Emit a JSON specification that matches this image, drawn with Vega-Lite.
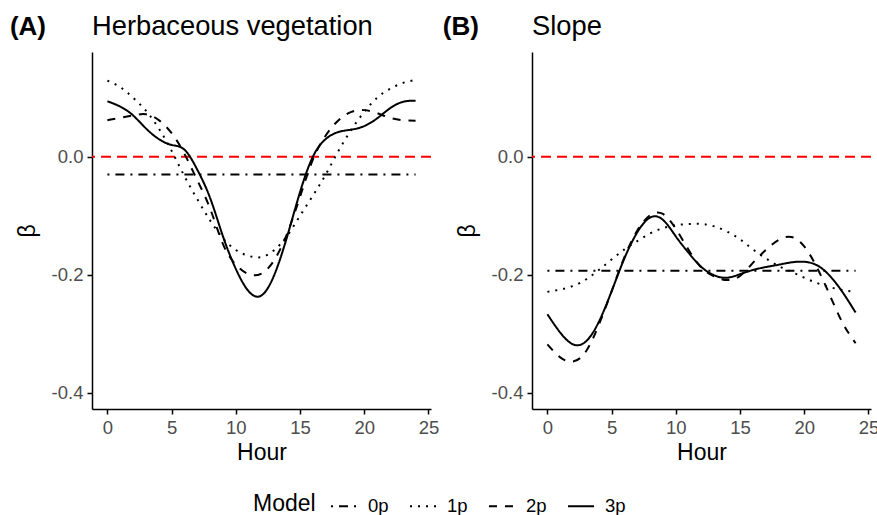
{
  "$schema": "https://vega.github.io/schema/vega-lite/v6.json",
  "background": "white",
  "padding": {"left": 9, "top": 12, "right": 5, "bottom": 5},
  "config": {
    "font": "Liberation Sans",
    "view": {"stroke": null},
    "axis": {"grid": false, "domainColor": "black", "domainWidth": 1.5, "tickColor": "black", "tickWidth": 1.5, "tickSize": 5, "labelColor": "#4d4d4d", "labelFontSize": 18.5, "labelPadding": 4, "titleFontSize": 23, "titleFontWeight": "normal", "titleColor": "black"}
  },
  "datasets": {
    "curves": [
      {"panel": "A", "model": "0p", "hour": 0, "beta": -0.030},
      {"panel": "A", "model": "0p", "hour": 24, "beta": -0.030},
      {"panel": "A", "model": "1p", "hour": 0, "beta": 0.129},
      {"panel": "A", "model": "1p", "hour": 1, "beta": 0.118},
      {"panel": "A", "model": "1p", "hour": 2, "beta": 0.100},
      {"panel": "A", "model": "1p", "hour": 3, "beta": 0.078},
      {"panel": "A", "model": "1p", "hour": 4, "beta": 0.048},
      {"panel": "A", "model": "1p", "hour": 5, "beta": 0.010},
      {"panel": "A", "model": "1p", "hour": 6, "beta": -0.033},
      {"panel": "A", "model": "1p", "hour": 7, "beta": -0.072},
      {"panel": "A", "model": "1p", "hour": 8, "beta": -0.108},
      {"panel": "A", "model": "1p", "hour": 9, "beta": -0.138},
      {"panel": "A", "model": "1p", "hour": 10, "beta": -0.158},
      {"panel": "A", "model": "1p", "hour": 11, "beta": -0.168},
      {"panel": "A", "model": "1p", "hour": 12, "beta": -0.170},
      {"panel": "A", "model": "1p", "hour": 13, "beta": -0.158},
      {"panel": "A", "model": "1p", "hour": 14, "beta": -0.134},
      {"panel": "A", "model": "1p", "hour": 15, "beta": -0.100},
      {"panel": "A", "model": "1p", "hour": 16, "beta": -0.066},
      {"panel": "A", "model": "1p", "hour": 17, "beta": -0.030},
      {"panel": "A", "model": "1p", "hour": 18, "beta": 0.010},
      {"panel": "A", "model": "1p", "hour": 19, "beta": 0.046},
      {"panel": "A", "model": "1p", "hour": 20, "beta": 0.076},
      {"panel": "A", "model": "1p", "hour": 21, "beta": 0.100},
      {"panel": "A", "model": "1p", "hour": 22, "beta": 0.115},
      {"panel": "A", "model": "1p", "hour": 23, "beta": 0.125},
      {"panel": "A", "model": "1p", "hour": 24, "beta": 0.130},
      {"panel": "A", "model": "2p", "hour": 0, "beta": 0.062},
      {"panel": "A", "model": "2p", "hour": 1, "beta": 0.066},
      {"panel": "A", "model": "2p", "hour": 2, "beta": 0.070},
      {"panel": "A", "model": "2p", "hour": 3, "beta": 0.072},
      {"panel": "A", "model": "2p", "hour": 4, "beta": 0.062},
      {"panel": "A", "model": "2p", "hour": 5, "beta": 0.040},
      {"panel": "A", "model": "2p", "hour": 6, "beta": 0.005},
      {"panel": "A", "model": "2p", "hour": 7, "beta": -0.040},
      {"panel": "A", "model": "2p", "hour": 8, "beta": -0.088},
      {"panel": "A", "model": "2p", "hour": 9, "beta": -0.148},
      {"panel": "A", "model": "2p", "hour": 10, "beta": -0.183},
      {"panel": "A", "model": "2p", "hour": 11, "beta": -0.199},
      {"panel": "A", "model": "2p", "hour": 12, "beta": -0.198},
      {"panel": "A", "model": "2p", "hour": 13, "beta": -0.175},
      {"panel": "A", "model": "2p", "hour": 14, "beta": -0.130},
      {"panel": "A", "model": "2p", "hour": 15, "beta": -0.068},
      {"panel": "A", "model": "2p", "hour": 16, "beta": -0.005},
      {"panel": "A", "model": "2p", "hour": 17, "beta": 0.036},
      {"panel": "A", "model": "2p", "hour": 18, "beta": 0.062},
      {"panel": "A", "model": "2p", "hour": 19, "beta": 0.076},
      {"panel": "A", "model": "2p", "hour": 20, "beta": 0.079},
      {"panel": "A", "model": "2p", "hour": 21, "beta": 0.074},
      {"panel": "A", "model": "2p", "hour": 22, "beta": 0.066},
      {"panel": "A", "model": "2p", "hour": 23, "beta": 0.062},
      {"panel": "A", "model": "2p", "hour": 24, "beta": 0.061},
      {"panel": "A", "model": "3p", "hour": 0, "beta": 0.094},
      {"panel": "A", "model": "3p", "hour": 1, "beta": 0.085},
      {"panel": "A", "model": "3p", "hour": 2, "beta": 0.070},
      {"panel": "A", "model": "3p", "hour": 3, "beta": 0.048},
      {"panel": "A", "model": "3p", "hour": 4, "beta": 0.030},
      {"panel": "A", "model": "3p", "hour": 5, "beta": 0.020},
      {"panel": "A", "model": "3p", "hour": 6, "beta": 0.012},
      {"panel": "A", "model": "3p", "hour": 7, "beta": -0.022},
      {"panel": "A", "model": "3p", "hour": 8, "beta": -0.070},
      {"panel": "A", "model": "3p", "hour": 9, "beta": -0.135},
      {"panel": "A", "model": "3p", "hour": 10, "beta": -0.190},
      {"panel": "A", "model": "3p", "hour": 11, "beta": -0.228},
      {"panel": "A", "model": "3p", "hour": 12, "beta": -0.235},
      {"panel": "A", "model": "3p", "hour": 13, "beta": -0.200},
      {"panel": "A", "model": "3p", "hour": 14, "beta": -0.135},
      {"panel": "A", "model": "3p", "hour": 15, "beta": -0.060},
      {"panel": "A", "model": "3p", "hour": 16, "beta": 0.000},
      {"panel": "A", "model": "3p", "hour": 17, "beta": 0.030},
      {"panel": "A", "model": "3p", "hour": 18, "beta": 0.042},
      {"panel": "A", "model": "3p", "hour": 19, "beta": 0.046},
      {"panel": "A", "model": "3p", "hour": 20, "beta": 0.052},
      {"panel": "A", "model": "3p", "hour": 21, "beta": 0.065},
      {"panel": "A", "model": "3p", "hour": 22, "beta": 0.082},
      {"panel": "A", "model": "3p", "hour": 23, "beta": 0.093},
      {"panel": "A", "model": "3p", "hour": 24, "beta": 0.095},
      {"panel": "B", "model": "0p", "hour": 0, "beta": -0.193},
      {"panel": "B", "model": "0p", "hour": 24, "beta": -0.193},
      {"panel": "B", "model": "1p", "hour": 0, "beta": -0.229},
      {"panel": "B", "model": "1p", "hour": 1, "beta": -0.225},
      {"panel": "B", "model": "1p", "hour": 2, "beta": -0.219},
      {"panel": "B", "model": "1p", "hour": 3, "beta": -0.208},
      {"panel": "B", "model": "1p", "hour": 4, "beta": -0.192},
      {"panel": "B", "model": "1p", "hour": 5, "beta": -0.174},
      {"panel": "B", "model": "1p", "hour": 6, "beta": -0.157},
      {"panel": "B", "model": "1p", "hour": 7, "beta": -0.143},
      {"panel": "B", "model": "1p", "hour": 8, "beta": -0.130},
      {"panel": "B", "model": "1p", "hour": 9, "beta": -0.121},
      {"panel": "B", "model": "1p", "hour": 10, "beta": -0.116},
      {"panel": "B", "model": "1p", "hour": 11, "beta": -0.114},
      {"panel": "B", "model": "1p", "hour": 12, "beta": -0.114},
      {"panel": "B", "model": "1p", "hour": 13, "beta": -0.118},
      {"panel": "B", "model": "1p", "hour": 14, "beta": -0.127},
      {"panel": "B", "model": "1p", "hour": 15, "beta": -0.140},
      {"panel": "B", "model": "1p", "hour": 16, "beta": -0.157},
      {"panel": "B", "model": "1p", "hour": 17, "beta": -0.172},
      {"panel": "B", "model": "1p", "hour": 18, "beta": -0.185},
      {"panel": "B", "model": "1p", "hour": 19, "beta": -0.195},
      {"panel": "B", "model": "1p", "hour": 20, "beta": -0.205},
      {"panel": "B", "model": "1p", "hour": 21, "beta": -0.214},
      {"panel": "B", "model": "1p", "hour": 22, "beta": -0.221},
      {"panel": "B", "model": "1p", "hour": 23, "beta": -0.226},
      {"panel": "B", "model": "1p", "hour": 24, "beta": -0.229},
      {"panel": "B", "model": "2p", "hour": 0, "beta": -0.318},
      {"panel": "B", "model": "2p", "hour": 1, "beta": -0.340},
      {"panel": "B", "model": "2p", "hour": 2, "beta": -0.347},
      {"panel": "B", "model": "2p", "hour": 3, "beta": -0.330},
      {"panel": "B", "model": "2p", "hour": 4, "beta": -0.285},
      {"panel": "B", "model": "2p", "hour": 5, "beta": -0.228},
      {"panel": "B", "model": "2p", "hour": 6, "beta": -0.170},
      {"panel": "B", "model": "2p", "hour": 7, "beta": -0.125},
      {"panel": "B", "model": "2p", "hour": 8, "beta": -0.099},
      {"panel": "B", "model": "2p", "hour": 9, "beta": -0.097},
      {"panel": "B", "model": "2p", "hour": 10, "beta": -0.122},
      {"panel": "B", "model": "2p", "hour": 11, "beta": -0.158},
      {"panel": "B", "model": "2p", "hour": 12, "beta": -0.188},
      {"panel": "B", "model": "2p", "hour": 13, "beta": -0.203},
      {"panel": "B", "model": "2p", "hour": 14, "beta": -0.209},
      {"panel": "B", "model": "2p", "hour": 15, "beta": -0.202},
      {"panel": "B", "model": "2p", "hour": 16, "beta": -0.180},
      {"panel": "B", "model": "2p", "hour": 17, "beta": -0.158},
      {"panel": "B", "model": "2p", "hour": 18, "beta": -0.141},
      {"panel": "B", "model": "2p", "hour": 19, "beta": -0.136},
      {"panel": "B", "model": "2p", "hour": 20, "beta": -0.152},
      {"panel": "B", "model": "2p", "hour": 21, "beta": -0.188},
      {"panel": "B", "model": "2p", "hour": 22, "beta": -0.235},
      {"panel": "B", "model": "2p", "hour": 23, "beta": -0.282},
      {"panel": "B", "model": "2p", "hour": 24, "beta": -0.316},
      {"panel": "B", "model": "3p", "hour": 0, "beta": -0.267},
      {"panel": "B", "model": "3p", "hour": 1, "beta": -0.298},
      {"panel": "B", "model": "3p", "hour": 2, "beta": -0.318},
      {"panel": "B", "model": "3p", "hour": 3, "beta": -0.313},
      {"panel": "B", "model": "3p", "hour": 4, "beta": -0.280},
      {"panel": "B", "model": "3p", "hour": 5, "beta": -0.228},
      {"panel": "B", "model": "3p", "hour": 6, "beta": -0.172},
      {"panel": "B", "model": "3p", "hour": 7, "beta": -0.128},
      {"panel": "B", "model": "3p", "hour": 8, "beta": -0.103},
      {"panel": "B", "model": "3p", "hour": 9, "beta": -0.107},
      {"panel": "B", "model": "3p", "hour": 10, "beta": -0.135},
      {"panel": "B", "model": "3p", "hour": 11, "beta": -0.163},
      {"panel": "B", "model": "3p", "hour": 12, "beta": -0.187},
      {"panel": "B", "model": "3p", "hour": 13, "beta": -0.201},
      {"panel": "B", "model": "3p", "hour": 14, "beta": -0.205},
      {"panel": "B", "model": "3p", "hour": 15, "beta": -0.199},
      {"panel": "B", "model": "3p", "hour": 16, "beta": -0.192},
      {"panel": "B", "model": "3p", "hour": 17, "beta": -0.187},
      {"panel": "B", "model": "3p", "hour": 18, "beta": -0.183},
      {"panel": "B", "model": "3p", "hour": 19, "beta": -0.179},
      {"panel": "B", "model": "3p", "hour": 20, "beta": -0.178},
      {"panel": "B", "model": "3p", "hour": 21, "beta": -0.184},
      {"panel": "B", "model": "3p", "hour": 22, "beta": -0.202},
      {"panel": "B", "model": "3p", "hour": 23, "beta": -0.230},
      {"panel": "B", "model": "3p", "hour": 24, "beta": -0.264}
    ]
  },
  "bounds": "flush",
  "spacing": 101,
  "hconcat": [
    {
      "width": 339,
      "height": 357,
      "layer": [
        {
          "data": {"values": [{"beta": 0}]},
          "mark": {"type": "rule", "color": "red", "strokeWidth": 2, "strokeDash": [10, 6]},
          "encoding": {"y": {"field": "beta", "type": "quantitative", "scale": {"domain": [-0.4275, 0.1775], "nice": false, "zero": false}}}
        },
        {
          "data": {"name": "curves"},
          "transform": [{"filter": "datum.panel === 'A'"}],
          "mark": {"type": "line", "interpolate": "natural", "strokeWidth": 2, "color": "black"},
          "encoding": {
            "x": {"field": "hour", "type": "quantitative", "scale": {"domain": [-1.2, 25.2], "nice": false, "zero": false}, "axis": {"values": [0, 5, 10, 15, 20, 25], "title": "Hour", "titlePadding": 5}},
            "y": {"field": "beta", "type": "quantitative", "scale": {"domain": [-0.4275, 0.1775], "nice": false, "zero": false}, "axis": {"values": [-0.4, -0.2, 0], "labelExpr": "replace(format(datum.value, '.1f'), '−', '-')", "title": "β", "titlePadding": 12}},
            "strokeDash": {"field": "model", "type": "nominal", "scale": {"domain": ["0p", "1p", "2p", "3p"], "range": [[2, 6, 9, 6], [2, 6], [8, 8], [1, 0]]},
              "legend": {"title": "Model", "orient": "none", "direction": "horizontal", "legendX": 161, "legendY": 440, "titleOrient": "left", "titleFontSize": 23, "titleFontWeight": "normal", "titleColor": "black", "titlePadding": 14, "labelFontSize": 18.5, "labelColor": "black", "labelOffset": 10, "columnPadding": 17, "symbolType": "stroke", "symbolSize": 676, "symbolStrokeWidth": 2, "symbolStrokeColor": "black"}}
          }
        },
        {
          "data": {"values": [{"tag": "(A)"}]},
          "mark": {"type": "text", "fontSize": 26, "fontWeight": "bold", "align": "center", "baseline": "alphabetic", "color": "black"},
          "encoding": {
            "x": {"datum": -6.19, "type": "quantitative", "scale": {"domain": [-1.2, 25.2], "nice": false, "zero": false}},
            "y": {"datum": 0.2068, "type": "quantitative", "scale": {"domain": [-0.4275, 0.1775], "nice": false, "zero": false}},
            "text": {"field": "tag"}
          }
        },
        {
          "data": {"values": [{"heading": "Herbaceous vegetation"}]},
          "mark": {"type": "text", "fontSize": 27.3, "fontWeight": "normal", "align": "left", "baseline": "alphabetic", "color": "black"},
          "encoding": {
            "x": {"datum": -1.2, "type": "quantitative", "scale": {"domain": [-1.2, 25.2], "nice": false, "zero": false}},
            "y": {"datum": 0.2068, "type": "quantitative", "scale": {"domain": [-0.4275, 0.1775], "nice": false, "zero": false}},
            "text": {"field": "heading"}
          }
        }
      ]
    },
    {
      "width": 339,
      "height": 357,
      "layer": [
        {
          "data": {"values": [{"beta": 0}]},
          "mark": {"type": "rule", "color": "red", "strokeWidth": 2, "strokeDash": [10, 6]},
          "encoding": {"y": {"field": "beta", "type": "quantitative", "scale": {"domain": [-0.4275, 0.1775], "nice": false, "zero": false}}}
        },
        {
          "data": {"name": "curves"},
          "transform": [{"filter": "datum.panel === 'B'"}],
          "mark": {"type": "line", "interpolate": "natural", "strokeWidth": 2, "color": "black"},
          "encoding": {
            "x": {"field": "hour", "type": "quantitative", "scale": {"domain": [-1.2, 25.2], "nice": false, "zero": false}, "axis": {"values": [0, 5, 10, 15, 20, 25], "title": "Hour", "titlePadding": 5}},
            "y": {"field": "beta", "type": "quantitative", "scale": {"domain": [-0.4275, 0.1775], "nice": false, "zero": false}, "axis": {"values": [-0.4, -0.2, 0], "labelExpr": "replace(format(datum.value, '.1f'), '−', '-')", "title": "β", "titlePadding": 12}},
            "strokeDash": {"field": "model", "type": "nominal", "scale": {"domain": ["0p", "1p", "2p", "3p"], "range": [[2, 6, 9, 6], [2, 6], [8, 8], [1, 0]]},
              "legend": {"title": "Model", "orient": "none", "direction": "horizontal", "legendX": 161, "legendY": 440, "titleOrient": "left", "titleFontSize": 23, "titleFontWeight": "normal", "titleColor": "black", "titlePadding": 14, "labelFontSize": 18.5, "labelColor": "black", "labelOffset": 10, "columnPadding": 17, "symbolType": "stroke", "symbolSize": 676, "symbolStrokeWidth": 2, "symbolStrokeColor": "black"}}
          }
        },
        {
          "data": {"values": [{"tag": "(B)"}]},
          "mark": {"type": "text", "fontSize": 26, "fontWeight": "bold", "align": "center", "baseline": "alphabetic", "color": "black"},
          "encoding": {
            "x": {"datum": -6.74, "type": "quantitative", "scale": {"domain": [-1.2, 25.2], "nice": false, "zero": false}},
            "y": {"datum": 0.2068, "type": "quantitative", "scale": {"domain": [-0.4275, 0.1775], "nice": false, "zero": false}},
            "text": {"field": "tag"}
          }
        },
        {
          "data": {"values": [{"heading": "Slope"}]},
          "mark": {"type": "text", "fontSize": 27.3, "fontWeight": "normal", "align": "left", "baseline": "alphabetic", "color": "black"},
          "encoding": {
            "x": {"datum": -1.2, "type": "quantitative", "scale": {"domain": [-1.2, 25.2], "nice": false, "zero": false}},
            "y": {"datum": 0.2068, "type": "quantitative", "scale": {"domain": [-0.4275, 0.1775], "nice": false, "zero": false}},
            "text": {"field": "heading"}
          }
        }
      ]
    }
  ]
}
